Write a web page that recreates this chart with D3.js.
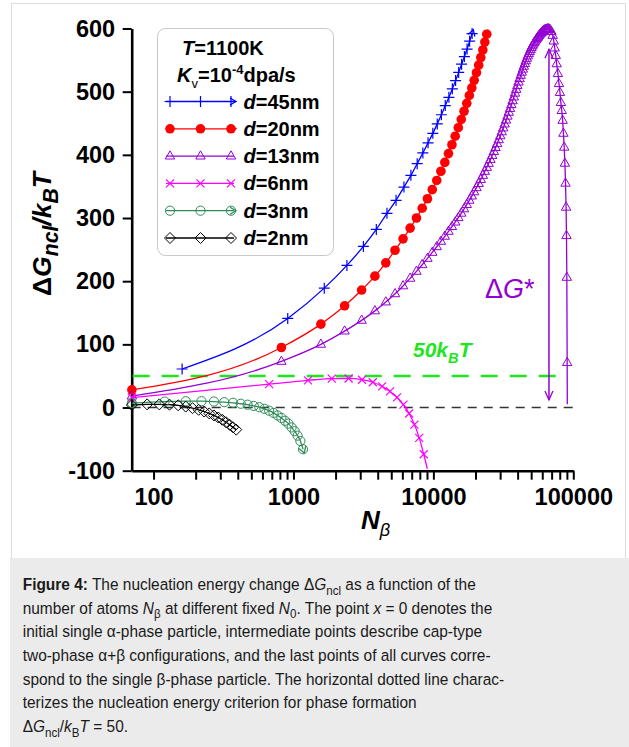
<!DOCTYPE html>
<html>
<head>
<meta charset="utf-8">
<script src="https://cdn.jsdelivr.net/npm/d3@7"></script>
<style>
  body { margin: 0; background: #fff; }
  svg { display: block; font-family: "Liberation Sans", Arial, sans-serif; }
</style>
</head>
<body>
<svg id="chart" width="629" height="747"></svg>
<script>
// values: N_beta (atoms) and dG/kT for each particle size
var nBlue = [160, 910, 1660, 2410, 3160, 3910, 4660, 5410, 6160, 6910, 7660, 8410, 9160,
  9910, 10660, 11410, 12160, 12910, 13660, 14410, 15160, 15910, 16660, 17410, 18160, 18910];
var gBlue = [61, 141, 189, 225, 255, 282, 307.5, 328, 349, 367.5, 386, 403, 419,
  434, 449, 463.5, 478, 491, 504.5, 517.5, 530.5, 543.5, 555.5, 567.5, 580, 592];

var nRed = [70, 820, 1570, 2320, 3070, 3820, 4570, 5320, 6070, 6820, 7570, 8320, 9070,
  9820, 10570, 11320, 12070, 12820, 13570, 14320, 15070, 15820, 16570, 17320, 18070,
  18820, 19570, 20320, 21070, 21820, 22570, 23320, 24070];
var gRed = [28, 95, 132, 161, 186, 208, 229, 249, 267, 284, 300, 315.5, 330.5,
  345, 359.5, 374, 388, 402, 416, 429.5, 443, 456, 469, 481.5, 494,
  506, 518, 530, 542, 554, 566, 578.5, 591];

var nPurple = [70, 820, 1570, 2320, 3070, 3820, 4570, 5320, 6070, 6820, 7570, 8320, 9070,
  9820, 10570, 11320, 12070, 12820, 13570, 14320, 15070, 15820, 16570, 17320, 18070,
  18820, 19570, 20320, 21070, 21820, 22570, 23320, 24070, 24820, 25570, 26320, 27070,
  27820, 28570, 29320, 30070, 30820, 31570, 32320, 33070, 33820, 34570, 35320, 36070,
  36820, 37570, 38320, 39070, 39820, 40570, 41320, 42070, 42820, 43570, 44320, 45070,
  45820, 46570, 47320, 48070, 48820, 49570, 50320, 51070, 51820, 52570, 53320, 54070,
  54820, 55570, 56320, 57070, 57820, 58570, 59320, 60070, 60820, 61570, 62320, 63070,
  63820, 64570, 65320, 66070, 66820,
  68300, 69800, 71200, 72500, 73700, 74900, 76100, 77600, 79000, 80300, 81500, 82700,
  83900, 85000, 86100, 87100, 88000, 88800, 89400, 89900, 90400];
var gPurple = [18, 73, 100, 121, 138, 153, 167, 180, 192.5, 204.5, 215.5, 226, 236,
  245.5, 254.5, 263, 271, 278.8, 286.3, 293.5, 300.5, 307.5, 314.4, 321.2, 328,
  334.7, 341.3, 347.9, 354.4, 360.9, 367.3, 373.7, 380, 386.3, 392.6, 398.9, 405.2,
  411.4, 417.6, 423.8, 430, 436.3, 442.5, 448.7, 454.9, 461.1, 467.2, 473.3, 479.4,
  485.5, 491.5, 497.5, 503.5, 509.5, 515.1, 520.5, 525.7, 530.7, 535.5, 540.1, 544.5,
  548.7, 552.7, 556.5, 560.1, 563.5, 566.7, 569.7, 572.5, 575.1, 577.5, 579.7, 581.8,
  583.8, 585.7, 587.5, 589.2, 590.8, 592.3, 593.6, 594.8, 595.9, 596.8, 597.6, 598.2,
  598.7, 599, 599.2, 599.3, 599.3,
  598, 595, 589, 580, 569, 557, 544, 528.5, 512.7, 498.6, 482.7, 470,
  454.5, 434, 412, 386.6, 355, 317, 272, 206, 71];
var tailPurple = [90600, 5];

var nMagenta = [70, 670, 1270, 1880, 2480, 3090, 3690, 4300, 4900, 5500, 6110, 6710, 7320, 7920, 8530];
var gMagenta = [15.8, 37, 43, 45.8, 46, 44, 40, 33.5, 25.5, 16, 4.5, -9.5, -27, -48, -74];
var tailMagenta = [9050, -97];

var nGreen = [70, 120, 170, 220, 270, 320, 370, 420, 470, 520, 570, 620, 670, 720, 770,
  820, 870, 920, 970, 1020, 1070, 1120, 1170];
var gGreen = [7, 9.5, 10, 10, 9.5, 8.5, 7.5, 6, 4.5, 2.5, 0.5, -2, -5, -8.5, -12.5,
  -16.5, -21, -25.5, -31.5, -37.5, -44.5, -53, -66];

var nBlack = [70, 90, 110, 130, 150, 170, 190, 210, 230, 250, 270, 290, 310, 330, 350, 370, 390];
var gBlack = [4, 5, 5, 4.5, 3.5, 1.5, -1, -3.6, -6.3, -9.3, -12.5, -15.8, -19.4, -23.4, -27.4, -31.4, -35];

var sizes = ["45", "20", "13", "6", "3", "2"];
var xTicks = [100, 1000, 10000, 100000];
var yTicks = [-100, 0, 100, 200, 300, 400, 500, 600];
var criterion = 50;          // 50 kBT line
var barrier = { n: 67000, from: 12, to: 567 };   // dG* arrow

var series = [
  { n: nBlue,    g: gBlue,    color: "#0000ff", mark: "plus",    arrow: true },
  { n: nRed,     g: gRed,     color: "#ff0000", mark: "dot",     arrow: true },
  { n: nPurple,  g: gPurple,  color: "#9400d3", mark: "tri",     tail: tailPurple },
  { n: nMagenta, g: gMagenta, color: "#ff00ff", mark: "cross",   tail: tailMagenta },
  { n: nGreen,   g: gGreen,   color: "#2e8b57", mark: "ring",    arrow: true },
  { n: nBlack,   g: gBlack,   color: "#000000", mark: "diamond" }
];

var svg = d3.select("#chart");

// frame + caption box
svg.append("rect").attr("x", 11.5).attr("y", 3.5).attr("width", 614).attr("height", 555)
  .attr("fill", "#fff").attr("stroke", "#dcdcdc");
svg.append("rect").attr("x", 10).attr("y", 558).attr("width", 619).attr("height", 189)
  .attr("fill", "#ebebeb");

var x = d3.scaleLog().domain([69.8, 1e5]).range([131.7, 573.3]);
var y = d3.scaleLinear().domain([-100, 600]).range([470.7, 28.5]);

// rich text: parts = [[text, "b i sub sup"], ...]
function rich(sel, parts, size, subScale) {
  var shift = 0;
  subScale = subScale || 0.7;
  parts.forEach(function(p) {
    var f = (p[1] || "").split(" ");
    var ts = sel.append("tspan").text(p[0]);
    var target = 0, fs = size;
    if (f.indexOf("sub") >= 0) { target = size * 0.28; fs = size * subScale; }
    if (f.indexOf("sup") >= 0) { target = -size * 0.4; fs = size * subScale; }
    if (target - shift !== 0) ts.attr("dy", target - shift);
    shift = target;
    ts.style("font-size", fs + "px");
    if (f.indexOf("b") >= 0) ts.style("font-weight", "bold");
    if (f.indexOf("i") >= 0) ts.style("font-style", "italic");
  });
  return sel;
}

function marker(g, type, color, px, py) {
  if (type === "plus") {
    g.append("path").attr("d", "M" + (px - 5.5) + "," + py + "h11M" + px + "," + (py - 5.5) + "v11")
      .attr("stroke", color).attr("stroke-width", 1.2).attr("fill", "none");
  } else if (type === "dot") {
    g.append("circle").attr("cx", px).attr("cy", py).attr("r", 4.8).attr("fill", color);
  } else if (type === "tri") {
    g.append("path").attr("d", "M" + px + "," + (py - 5.3) + "l4.7,8.2h-9.4z")
      .attr("stroke", color).attr("stroke-width", 1).attr("fill", "none");
  } else if (type === "cross") {
    g.append("path").attr("d", "M" + (px - 4) + "," + (py - 4) + "l8,8M" + (px - 4) + "," + (py + 4) + "l8,-8")
      .attr("stroke", color).attr("stroke-width", 1.2).attr("fill", "none");
  } else if (type === "ring") {
    g.append("circle").attr("cx", px).attr("cy", py).attr("r", 4.6)
      .attr("stroke", color).attr("stroke-width", 1).attr("fill", "none");
  } else if (type === "diamond") {
    g.append("path").attr("d", "M" + px + "," + (py - 5.5) + "l5.5,5.5l-5.5,5.5l-5.5,-5.5z")
      .attr("stroke", color).attr("stroke-width", 1).attr("fill", "none");
  }
}

// open V arrowhead with tip at (tx,ty), pointing along angle a
function arrowHead(g, color, tx, ty, a, len, width) {
  var h = len || 7, w = width || 4;
  var ca = Math.cos(a), sa = Math.sin(a);
  var p1 = [tx - h * ca + w * sa, ty - h * sa - w * ca];
  var p2 = [tx - h * ca - w * sa, ty - h * sa + w * ca];
  g.append("path").attr("d", "M" + p1 + "L" + tx + "," + ty + "L" + p2)
    .attr("stroke", color).attr("stroke-width", 1.3).attr("fill", "none");
}

// axes
var minor = x.ticks().filter(function(d) { return d >= 100 && xTicks.indexOf(d) < 0; });
var xAxis = svg.append("g").attr("transform", "translate(0," + y(-100) + ")")
  .call(d3.axisBottom(x).tickValues(xTicks).tickFormat(d3.format("d"))
    .tickSize(9).tickSizeOuter(0).tickPadding(9));
svg.append("g").attr("transform", "translate(0," + y(-100) + ")")
  .call(d3.axisBottom(x).tickValues(minor).tickFormat("").tickSize(9).tickSizeOuter(0))
  .call(function(g) { g.select(".domain").remove(); })
  .selectAll("line").attr("stroke-width", 2);
var yAxis = svg.append("g").attr("transform", "translate(" + x.range()[0] + ",0)")
  .call(d3.axisLeft(y).tickValues(yTicks).tickFormat(d3.format("d"))
    .tickSize(9).tickSizeOuter(0).tickPadding(7.5));
[xAxis, yAxis].forEach(function(a) {
  a.select(".domain").attr("stroke-width", 2.6);
  a.selectAll(".tick line").attr("stroke-width", 2);
  a.selectAll(".tick text").style("font-size", "23.5px").style("font-weight", "bold")
    .attr("fill", "#000").style("font-family", "'Liberation Sans', Arial, sans-serif");
});
yAxis.selectAll(".tick text").text(function(d) { return d < 0 ? "-" + Math.abs(d) : d; });

// reference lines
svg.append("line").attr("x1", x.range()[0]).attr("x2", x.range()[1])
  .attr("y1", y(0)).attr("y2", y(0))
  .attr("stroke", "#333").attr("stroke-width", 1.6).attr("stroke-dasharray", "9,7");
svg.append("line").attr("x1", x.range()[0] + 1).attr("x2", x(barrier.n) + 12)
  .attr("y1", y(criterion)).attr("y2", y(criterion))
  .attr("stroke", "#1ee61e").attr("stroke-width", 2.6).attr("stroke-dasharray", "17,12");

// curves
var line = d3.line().x(function(d) { return x(d[0]); }).y(function(d) { return y(d[1]); })
  .curve(d3.curveMonotoneX);
var plot = svg.append("g");
series.forEach(function(s) {
  var pts = s.n.map(function(n, i) { return [n, s.g[i]]; });
  var linePts = s.tail ? pts.concat([s.tail]) : pts;
  plot.append("path").attr("d", line(linePts)).attr("fill", "none")
    .attr("stroke", s.color).attr("stroke-width", 1.3);
  if (s.arrow) {
    var a = linePts[linePts.length - 2], b = linePts[linePts.length - 1];
    var ang = Math.atan2(y(b[1]) - y(a[1]), x(b[0]) - x(a[0]));
    arrowHead(plot, s.color, x(b[0]) + 4 * Math.cos(ang), y(b[1]) + 4 * Math.sin(ang), ang, 6, 3.5);
  }
  s.pts = pts;
});
series.forEach(function(s) {
  var mg = plot.append("g");
  s.pts.forEach(function(p) { marker(mg, s.mark, s.color, x(p[0]), y(p[1])); });
});

// dG* arrow
var bx = x(barrier.n);
svg.append("line").attr("x1", bx).attr("x2", bx).attr("y1", y(barrier.from)).attr("y2", y(barrier.to))
  .attr("stroke", "#9400d3").attr("stroke-width", 1.5);
arrowHead(svg, "#9400d3", bx, y(barrier.to), -Math.PI / 2, 9, 4);
arrowHead(svg, "#9400d3", bx, y(barrier.from), Math.PI / 2, 9, 4);
rich(svg.append("text").attr("x", 485).attr("y", 298).attr("fill", "#9400d3"),
  [["Δ"], ["G", "i"], ["*"]], 27);
rich(svg.append("text").attr("x", 413).attr("y", 357).attr("fill", "#1ee61e"),
  [["50", "b i"], ["k", "b i"], ["B", "b i sub"], ["T", "b i"]], 21);

// axis titles
rich(svg.append("text").attr("text-anchor", "middle")
  .attr("transform", "translate(51,234) rotate(-90)"),
  [["Δ", "b"], ["G", "b i"], ["ncl", "b i sub"], ["/k", "b i"], ["B", "b i sub"], ["T", "b i"]], 26.5, 0.8);
rich(svg.append("text").attr("x", 361).attr("y", 529),
  [["N", "b i"], ["β", "i sub"]], 26, 0.7);

// legend
var lg = svg.append("g");
lg.append("rect").attr("x", 157.5).attr("y", 28.5).attr("width", 176).attr("height", 227).attr("rx", 8)
  .attr("fill", "#fff").attr("stroke", "#c8c8c8");
rich(lg.append("text").attr("x", 182).attr("y", 55),
  [["T", "b i"], ["=1100K", "b"]], 20);
rich(lg.append("text").attr("x", 177).attr("y", 82),
  [["K", "b i"], ["v", "sub"], ["=10", "b"], ["-4", "b sup"], ["dpa/s", "b"]], 20, 0.65);
series.forEach(function(s, i) {
  var ly = 101.5 + i * 27.3;
  lg.append("line").attr("x1", 166).attr("x2", 234).attr("y1", ly).attr("y2", ly)
    .attr("stroke", s.color).attr("stroke-width", 1.3);
  if (s.arrow) arrowHead(lg, s.color, 236, ly, 0, 6, 3.5);
  [170, 200.5, 231].forEach(function(mx) { marker(lg, s.mark, s.color, mx, ly); });
  rich(lg.append("text").attr("x", 243.5).attr("y", ly + 7),
    [["d", "b i"], ["=" + sizes[i] + "nm", "b"]], 20);
});

// caption
var capLines = [
  [["Figure 4:", "b"], [" The nucleation energy change Δ"], ["G", "i"], ["ncl", "sub"], [" as a function of the"]],
  [["number of atoms "], ["N", "i"], ["β", "sub"], [" at different fixed "], ["N", "i"], ["0", "sub"], [". The point "], ["x", "i"], [" = 0 denotes the"]],
  [["initial single α-phase particle, intermediate points describe cap-type"]],
  [["two-phase α+β configurations, and the last points of all curves corre-"]],
  [["spond to the single β-phase particle. The horizontal dotted line charac-"]],
  [["terizes the nucleation energy criterion for phase formation"]],
  [["Δ"], ["G", "i"], ["ncl", "sub"], ["/"], ["k", "i"], ["B", "sub"], ["T", "i"], [" = 50."]]
];
var cap = svg.append("g");
capLines.forEach(function(parts, i) {
  rich(cap.append("text").attr("x", 0).attr("y", 590 + i * 23.7).attr("fill", "#1a1a1a"), parts, 16.5, 0.75);
});
var w2 = cap.selectAll("text").nodes()[1].getComputedTextLength();
cap.attr("transform", "translate(22.7,0) scale(" + (470 / w2) + ",1)");
</script>
</body>
</html>
